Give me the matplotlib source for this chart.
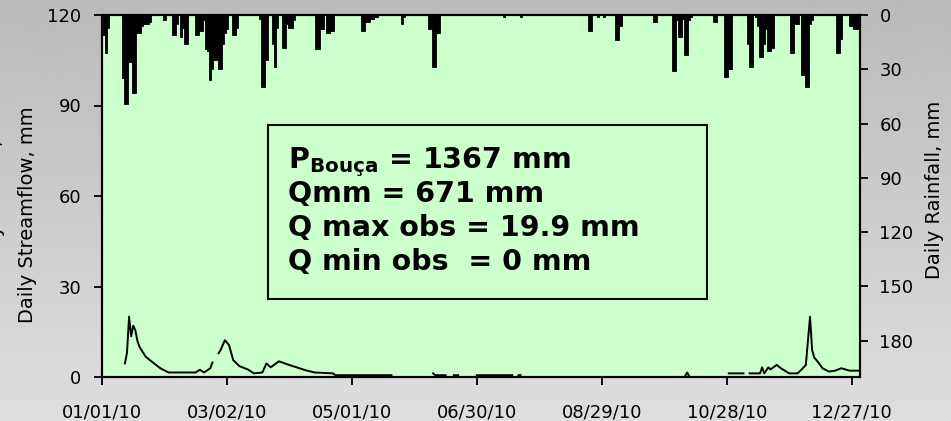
"""
Daily streamflow (left axis) and daily rainfall (right axis, inverted) for 2010.
"""

import numpy as np
import matplotlib
matplotlib.use("Agg")
import matplotlib.pyplot as plt
import matplotlib.dates as mdates
from matplotlib.patches import Rectangle

START = np.datetime64("2010-01-01")
NAN = np.nan

# Daily rainfall, mm (day of year offset from 01/01/10, value)
RAIN_DAYS = [1, 2, 3,
             10, 11, 12, 13, 14, 15, 16, 17, 18, 19, 20, 21, 22, 23,
             30, 34, 35, 36, 38, 39, 40, 41,
             45, 46, 47, 48, 49,
             50, 51, 52, 53, 54, 55, 56, 57, 58, 59, 60,
             63, 64, 65,
             76, 77, 78, 79, 82, 83, 84,
             87, 88, 89, 90, 91, 92,
             103, 104, 105, 106, 108, 109, 110, 111,
             125, 126, 127, 128, 129, 130, 131, 132,
             144, 145, 157, 158, 159, 160, 161, 162,
             193, 201, 234, 235, 238, 241, 247, 248, 249, 265, 266,
             274, 275, 276, 277, 278, 279, 280, 281, 282, 283,
             294, 295, 299, 300, 301, 302,
             310, 311, 312, 314, 315, 316, 317, 318, 319, 320, 321, 322,
             331, 332, 333, 334, 336, 337, 338, 339, 340, 341,
             353, 354, 355, 359, 360, 361, 362, 363]
RAIN_MM = [11, 21, 7,
           35, 49, 49, 26, 26, 43, 43, 10, 10, 6, 5, 5, 5, 4,
           3, 11, 11, 5, 12, 7, 16, 16,
           11, 11, 9, 9, 3,
           19, 20, 36, 30, 25, 25, 30, 30, 16, 10, 8,
           11, 11, 7,
           2, 40, 40, 25, 16, 29, 7,
           18, 18, 5, 7, 7, 3,
           19, 19, 8, 8, 10, 10, 9, 9,
           9, 9, 4, 4, 2, 2, 1, 1,
           5, 1, 8, 8, 29, 29, 10, 10,
           1, 1, 9, 9, 1, 1, 14, 14, 6, 4, 4,
           31, 31, 3, 12, 12, 2, 22, 22, 3, 1,
           4, 4, 34, 34, 30, 30,
           16, 29, 29, 1, 6, 23, 23, 16, 8, 20, 20, 18,
           21, 21, 5, 5, 33, 33, 40, 40, 5, 3,
           21, 21, 13, 6, 6, 8, 8, 8]

# Daily streamflow, mm (NaN = missing record)
FLOW_DAYS = [11, 12, 13, 14, 15, 16, 17, 18, 21, 25, 28, 32, 45, 47, 49, 52, 53, 54,
             56, 57, 58, 59, 61, 63, 66, 70, 73, 77, 79, 81, 85, 89, 93, 98, 102, 111, 112, 139, 140,
             159, 160, 165, 166, 169, 171, 172, 180, 197, 198, 200, 201, 202,
             280, 281, 282, 283,
             301, 308, 309, 311, 316, 317, 318, 320, 321, 324, 326, 330, 334, 336, 338,
             340, 341, 342, 344, 346, 349, 352, 355, 359, 364]
FLOW_MM = [4.5, 8.0, 20.0, 13.5, 17.0, 15.5, 12.0, 10.0, 6.7, 4.5, 2.9, 1.5, 1.5, 2.4, 1.5, 2.9, 4.8, NAN,
           7.9, 9.0, 10.6, 12.2, 10.6, 5.6, 3.6, 2.5, 1.2, 1.5, 4.5, 3.2, 5.2, 4.2, 3.3, 2.2, 1.5, 1.2, 0.6, 0.6, NAN,
           1.2, 0.6, 0.6, NAN, 0.6, 0.6, NAN, 0.6, 0.6, NAN, 0.6, 0.6, NAN,
           0.3, 1.5, 0.2, NAN,
           1.2, 1.2, NAN, 1.2, 1.2, 3.2, 1.2, 3.2, 2.5, 4.0, 2.9, 1.2, 1.2, 2.5, 4.0,
           20.0, 9.0, 6.5, 4.8, 2.9, 1.8, 2.1, 2.9, 2.1, 2.1]

X_TICK_DAYS = [0, 60, 120, 180, 240, 300, 360]
FLOW_TICKS = [0, 30, 60, 90, 120]
RAIN_TICKS = [0, 30, 60, 90, 120, 150, 180]

BOX_LINES = [r"P$_{\mathbf{Bouça}}$ = 1367 mm",
             "Qmm = 671 mm",
             "Q max obs = 19.9 mm",
             "Q min obs  = 0 mm"]

PLOT_BG = "#ccffcc"


def to_dates(days):
    return START + np.array(days).astype("timedelta64[D]")


def main() -> None:
    plt.rcParams["font.family"] = "DejaVu Sans"
    plt.rcParams["mathtext.fontset"] = "custom"
    plt.rcParams["mathtext.bf"] = "DejaVu Sans:bold"
    plt.rcParams["mathtext.rm"] = "DejaVu Sans"

    fig = plt.figure(figsize=(9.51, 4.21), dpi=100)

    # grey gradient background behind everything
    bg = fig.add_axes([0, 0, 1, 1], zorder=-10)
    grad = np.linspace(0.73, 0.87, 256).reshape(-1, 1)
    bg.imshow(grad, aspect="auto", cmap="gray", vmin=0, vmax=1, extent=[0, 1, 0, 1], origin="upper")
    bg.axis("off")

    ax = fig.add_axes([102 / 951, 44 / 421, 758 / 951, 362 / 421])
    ax.set_facecolor(PLOT_BG)

    flow_dates = to_dates(FLOW_DAYS)
    ax.plot(flow_dates, FLOW_MM, color="black", linewidth=1.4, zorder=3)
    ax.set_ylim(0, 120)
    ax.set_yticks(FLOW_TICKS)
    ax.set_xlim(START, START + np.timedelta64(364, "D"))
    ax.set_xticks(to_dates(X_TICK_DAYS))
    ax.xaxis.set_major_formatter(mdates.DateFormatter("%m/%d/%y"))

    ax2 = ax.twinx()
    ax2.bar(to_dates(RAIN_DAYS), RAIN_MM, width=1.0, color="black",
            edgecolor="black", linewidth=0.6)
    ax2.set_ylim(200, 0)
    ax2.set_yticks(RAIN_TICKS)

    for a in (ax, ax2):
        for sp in a.spines.values():
            sp.set_linewidth(1.5)
            sp.set_color("black")
    ax.tick_params(axis="y", direction="out", length=6, width=1.3, labelsize=13, pad=9)
    ax.tick_params(axis="x", direction="out", length=6, width=1.3, labelsize=13, pad=13)
    ax2.tick_params(axis="y", direction="out", length=6, width=1.3, labelsize=13, pad=8)

    # annotation box
    ax.add_patch(Rectangle((0.219, 0.215), 0.579, 0.481, transform=ax.transAxes,
                           facecolor="none", edgecolor="black", linewidth=1.5, zorder=4))
    for i, line in enumerate(BOX_LINES):
        ax.text(0.245, 0.578 - i * 0.094, line, transform=ax.transAxes,
                fontsize=20.5, fontweight="bold", va="baseline", ha="left", zorder=5)

    fig.text(28 / 951, 0.49, "Daily Streamflow, mm", rotation=90,
             ha="center", va="center", fontsize=14)
    fig.text(935 / 951, 0.55, "Daily Rainfall, mm", rotation=90,
             ha="center", va="center", fontsize=14)
    fig.text(-4 / 951, 0.56, "Daily Rainfall, mm", rotation=90,
             ha="center", va="center", fontsize=14)

    fig.savefig("out.png", dpi=100)
    plt.close(fig)


if __name__ == "__main__":
    main()
